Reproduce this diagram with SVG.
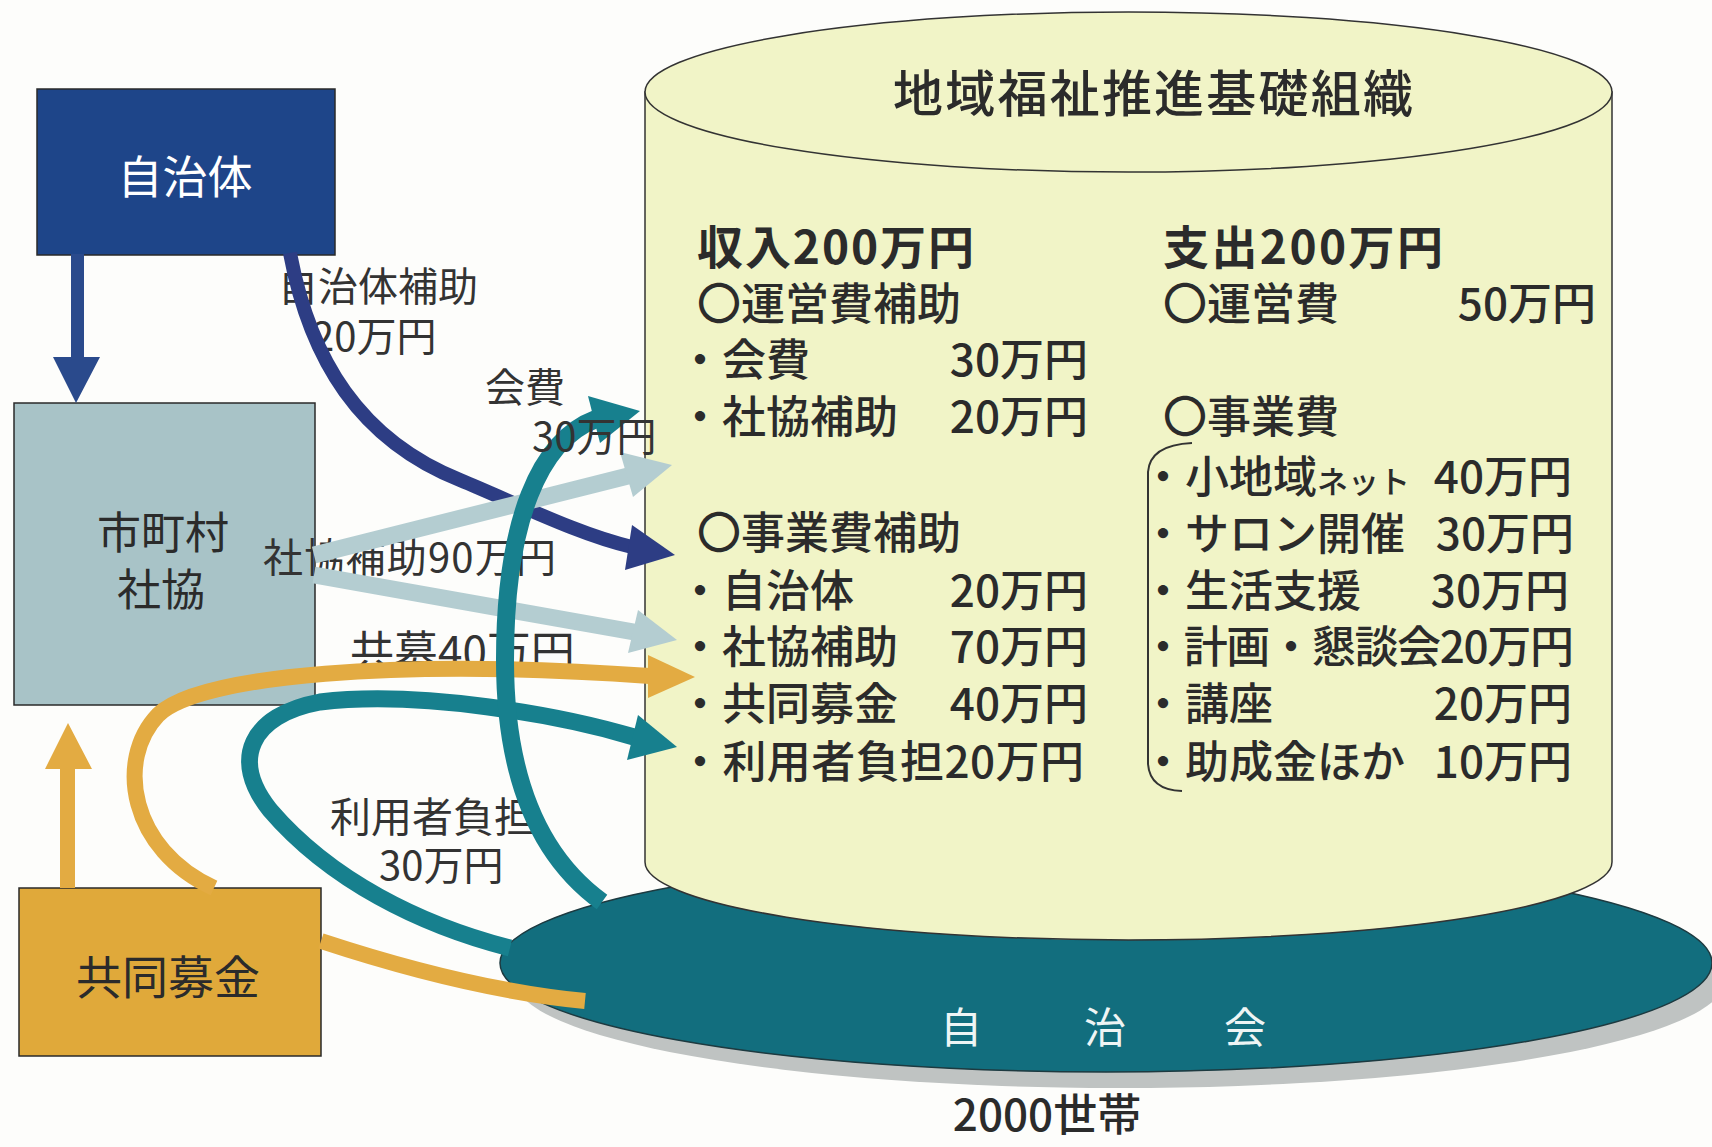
<svg xmlns="http://www.w3.org/2000/svg" width="1712" height="1147" viewBox="0 0 1712 1147">
<defs>
<style>
.t{font-family:"Noto Sans CJK JP","Noto Sans",sans-serif;fill:#2b2b2b;}
.c{font-size:44px;font-weight:500;}
.h{font-size:46px;font-weight:bold;}
.v{text-anchor:end;}
.lb{font-size:40px;fill:#333333;}
.m{text-anchor:middle;}
.box{stroke:#2a2a2a;stroke-width:1.5;}
.sh{fill:none;stroke-linecap:butt;}
</style>
</defs>
<rect x="0" y="0" width="1712" height="1147" fill="#fdfdfb"/>

<g id="jichikai">
<ellipse cx="1120" cy="979" rx="606" ry="109" fill="#bfc3c2"/>
<ellipse cx="1106" cy="963" rx="606" ry="109" fill="#126e7e" stroke="#1d3a40" stroke-width="1.5"/>
<text class="t m" x="961 1105 1245" y="1043" style="font-size:42px;fill:#eef5f5">自治会</text>
<text class="t m" x="1047" y="1131" style="font-size:44px;font-weight:500">2000世帯</text>
</g>

<g id="org">
<path d="M645 92 V862 A483.5 78 0 0 0 1612 862 V92 Z" fill="#f1f4c7" stroke="#333" stroke-width="1.5"/>
<ellipse cx="1128.5" cy="92" rx="483.5" ry="80" fill="#f1f4c7" stroke="#333" stroke-width="1.5"/>
<text class="t m" x="1153" y="112" textLength="520" style="font-size:50px;font-weight:500">地域福祉推進基礎組織</text>

<text class="t h" x="697" y="264" textLength="277">収入200万円</text>
<text class="t c" x="697" y="320">〇運営費補助</text>
<text class="t c" x="678" y="376">・会費</text><text class="t c v" x="1088" y="376">30万円</text>
<text class="t c" x="678" y="433">・社協補助</text><text class="t c v" x="1088" y="433">20万円</text>
<text class="t c" x="697" y="549">〇事業費補助</text>
<text class="t c" x="678" y="607">・自治体</text><text class="t c v" x="1088" y="607">20万円</text>
<text class="t c" x="678" y="663">・社協補助</text><text class="t c v" x="1088" y="663">70万円</text>
<text class="t c" x="678" y="720">・共同募金</text><text class="t c v" x="1088" y="720">40万円</text>
<text class="t c" x="678" y="778" textLength="406">・利用者負担20万円</text>

<text class="t h" x="1163" y="264" textLength="280">支出200万円</text>
<text class="t c" x="1163" y="320">〇運営費</text><text class="t c v" x="1596" y="320">50万円</text>
<text class="t c" x="1163" y="433">〇事業費</text>
<path d="M1192 443 Q1150 445 1148 472 L1148 764 Q1150 790 1182 791" fill="none" stroke="#333" stroke-width="2"/>
<text class="t c" x="1141" y="493">・小地域<tspan style="font-size:31px">ネット</tspan></text><text class="t c v" x="1572" y="493">40万円</text>
<text class="t c" x="1141" y="550">・サロン開催</text><text class="t c v" x="1574" y="550">30万円</text>
<text class="t c" x="1141" y="607">・生活支援</text><text class="t c v" x="1569" y="607">30万円</text>
<text class="t c" x="1141" y="663" textLength="433">・計画・懇談会20万円</text>
<text class="t c" x="1141" y="720">・講座</text><text class="t c v" x="1572" y="720">20万円</text>
<text class="t c" x="1141" y="778">・助成金ほか</text><text class="t c v" x="1572" y="778">10万円</text>
</g>

<g id="jichitai">
<rect class="box" x="37" y="89" width="298" height="166" fill="#1e4589"/>
<text class="t m" x="185" y="194" style="font-size:45px;fill:#ffffff">自治体</text>
</g>

<g id="shakyo">
<rect class="box" x="14" y="403" width="301" height="302" fill="#a8c3c7"/>
<text class="t m" x="163" y="549" style="font-size:44px">市町村</text>
<text class="t m" x="161" y="606" style="font-size:44px">社協</text>
</g>

<g id="kyodo">
<rect class="box" x="19" y="888" width="302" height="168" fill="#e0a93a"/>
<text class="t m" x="168" y="994" style="font-size:46px">共同募金</text>
</g>

<g id="labels">
<text class="t lb" x="278" y="301">自治体補助</text>
<text class="t lb" x="312" y="351">20万円</text>
<text class="t lb" x="263" y="572" textLength="293">社協補助90万円</text>
<text class="t lb" x="350" y="668" style="font-size:44px">共募40万円</text>
<text class="t lb" x="330" y="832" style="font-size:41px">利用者負担</text>
<text class="t lb" x="379" y="880">30万円</text>
</g>

<g id="connectors">
<polygon points="71,254 84,254 84,357 100,357 76,403 53,357 71,357" fill="#2a4a8c"/>
<polygon points="60,888 75,888 75,769 92,769 68,723 45,769 60,769" fill="#e3ab42"/>
<path class="sh" d="M290 253 C310 360 360 440 460 480 C520 505 580 535 632 547" stroke="#2d3d84" stroke-width="14"/>
<polygon points="675,555 632,525 625,570" fill="#2d3d84"/>
<path class="sh" d="M314 555 L628 476" stroke="#b4cdd1" stroke-width="17"/>
<polygon points="672,465 620,452 633,497" fill="#b4cdd1"/>
<path class="sh" d="M314 575 L634 632" stroke="#b4cdd1" stroke-width="17"/>
<polygon points="677,640 638,610 628,653" fill="#b4cdd1"/>
<path class="sh" d="M214 888 C130 850 115 760 158 715 C198 675 400 658 650 676" stroke="#e3ab42" stroke-width="16"/>
<polygon points="695,677 648,655 648,698" fill="#e3ab42"/>
<path class="sh" d="M321 941 Q470 990 585 1001" stroke="#e3ab42" stroke-width="16"/>
<path class="sh" d="M510 948 C420 925 330 880 270 810 C230 760 250 715 320 702 C420 690 560 715 634 737" stroke="#17808e" stroke-width="17"/>
<polygon points="677,747 638,715 627,760" fill="#17808e"/>
<path class="sh" d="M602 902 C530 850 505 760 505 660 C505 520 540 440 596 419" stroke="#17808e" stroke-width="18"/>
<polygon points="640,411 588,396 600,443" fill="#17808e"/>
</g>

<g id="labels-top">
<text class="t lb" x="485" y="402">会費</text>
<text class="t lb" x="532" y="451">30万円</text>
</g>
</svg>
